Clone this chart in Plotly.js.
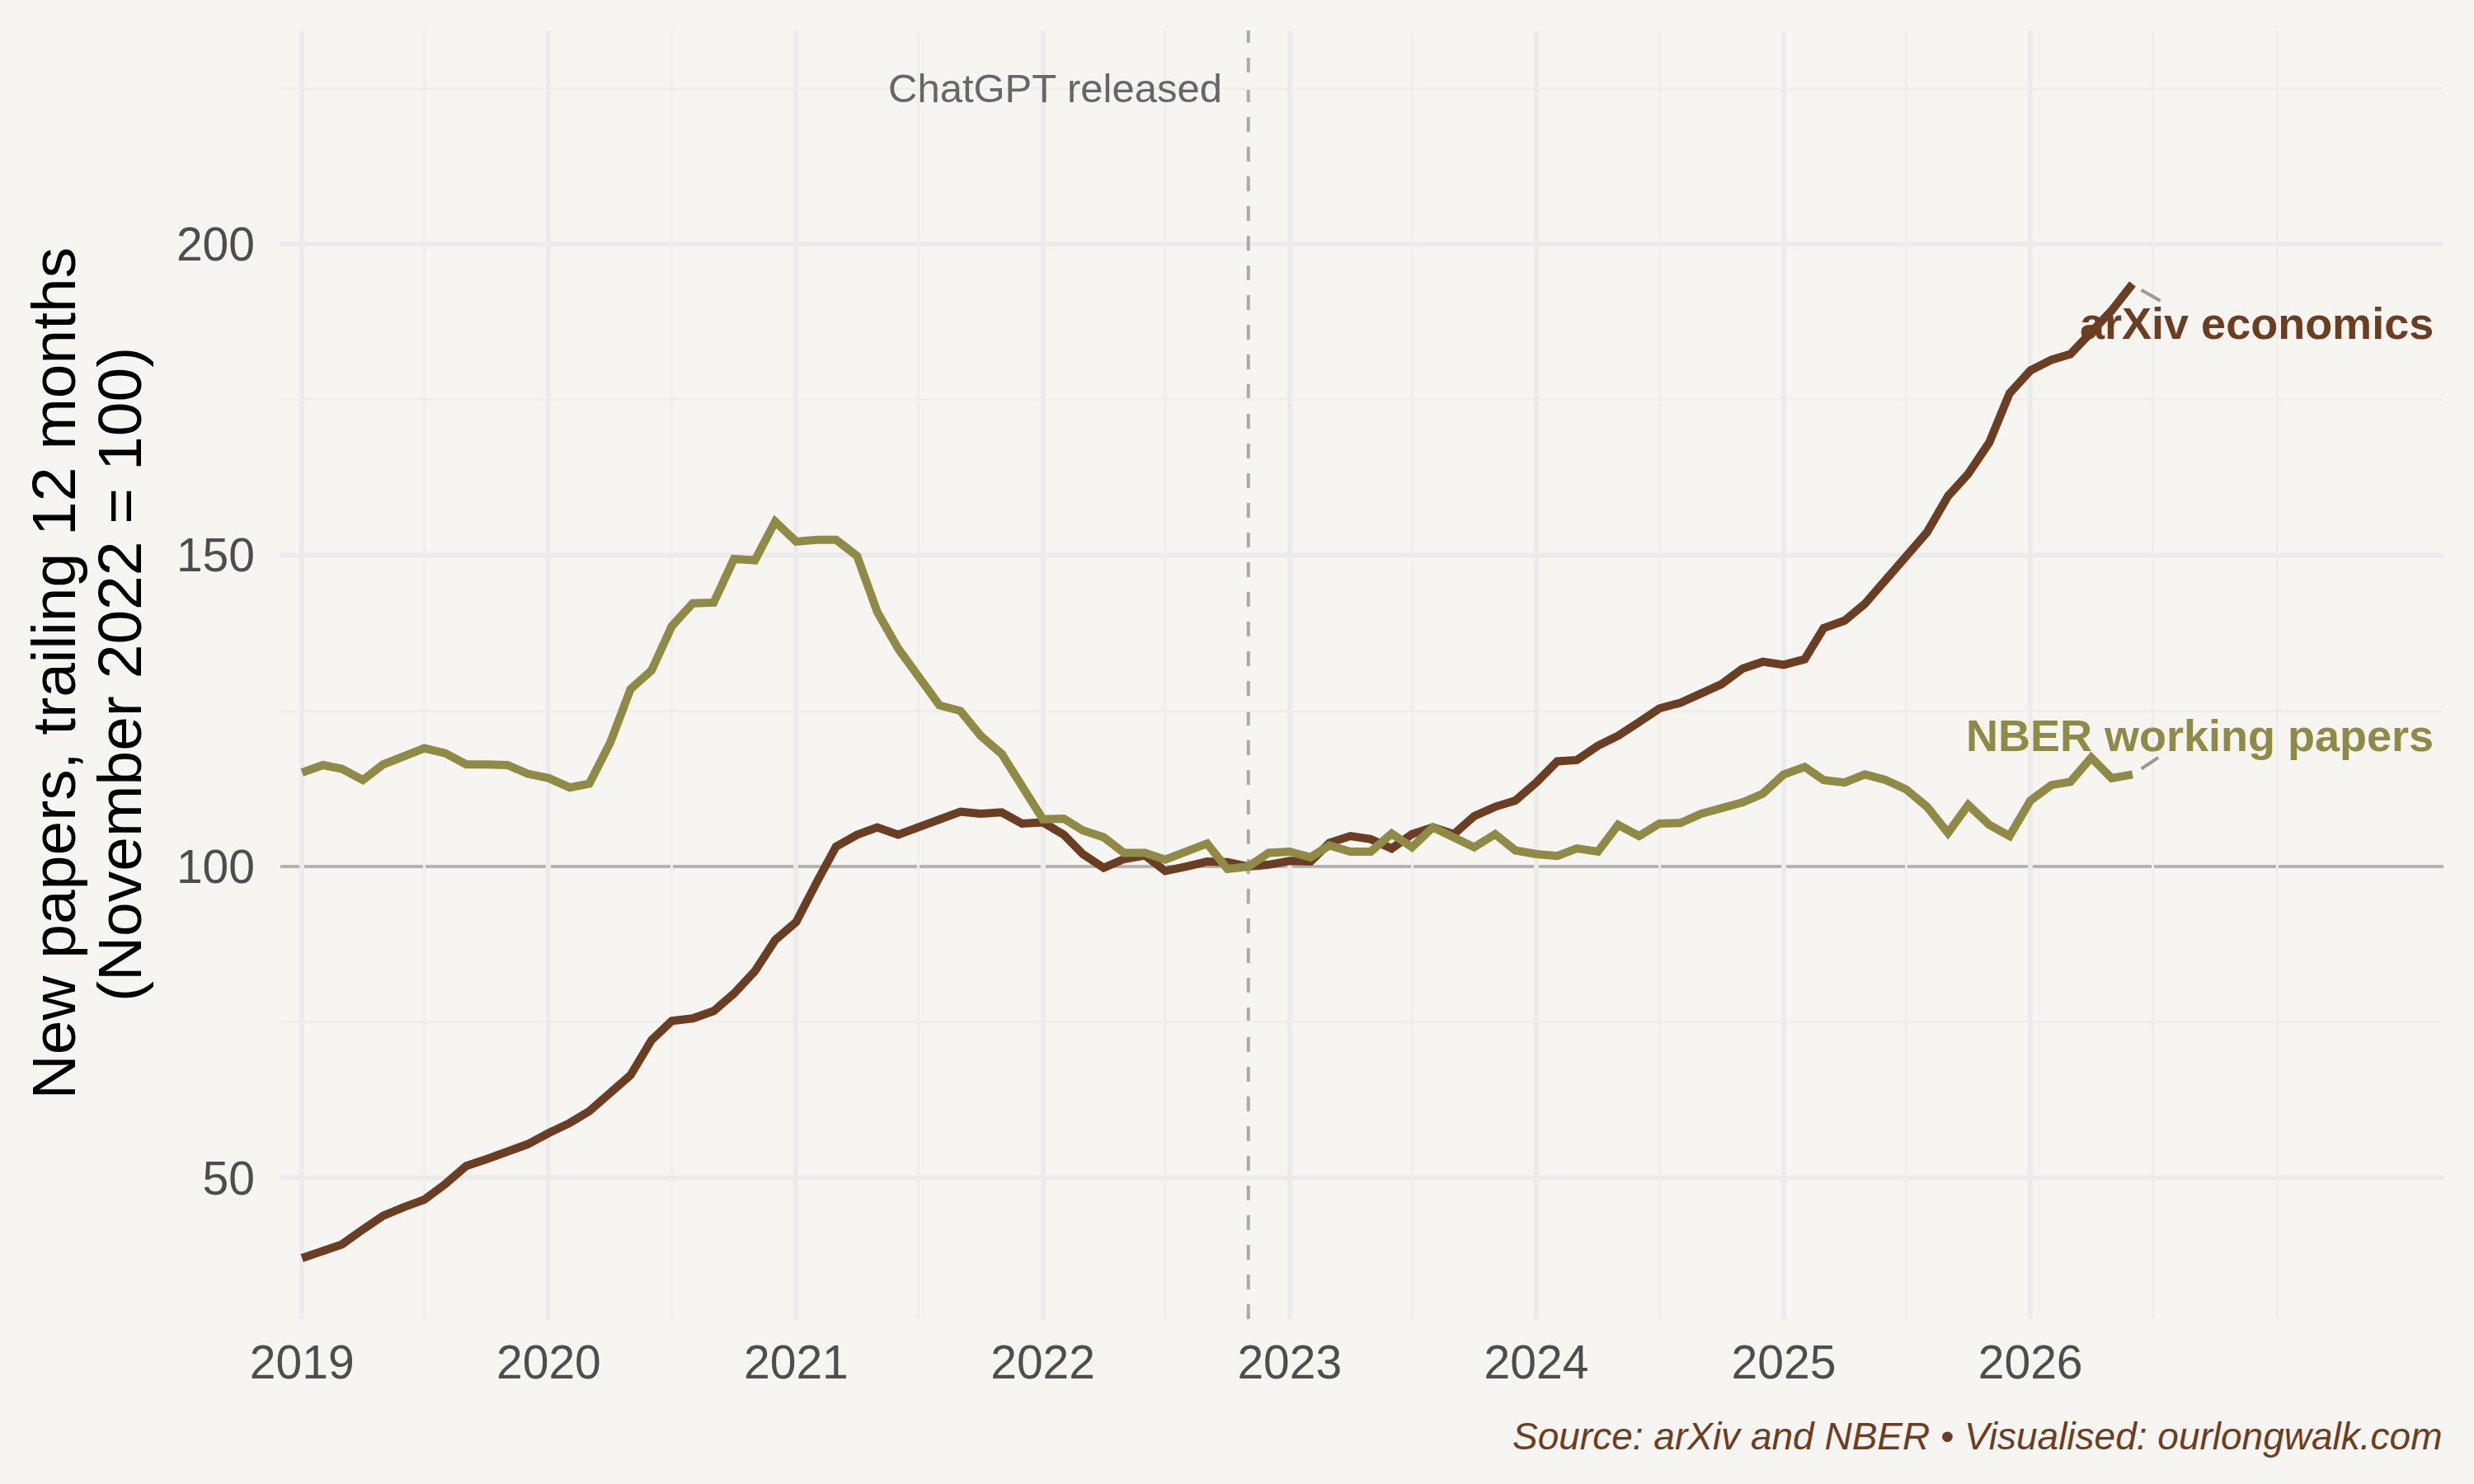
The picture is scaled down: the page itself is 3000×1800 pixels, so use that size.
<!DOCTYPE html>
<html>
<head>
<meta charset="utf-8">
<script src="https://cdn.plot.ly/plotly-3.0.1.min.js"></script>
<style>
  html, body { margin: 0; padding: 0; background: #f6f5f1; }
  #chart { width: 3000px; height: 1800px; }
</style>
</head>
<body>
<div id="chart"></div>
<script>
// Monthly index values, Jan 2019 .. Jun 2026 (November 2022 = 100)
const startYear = 2019;
const arxivEcon = [
  37.1, 38.2, 39.3, 41.7, 43.9, 45.3, 46.5, 49.0, 51.9, 53.0, 54.3, 55.4,
  57.2, 58.8, 60.7, 63.7, 66.5, 72.1, 75.2, 75.6, 76.8, 79.6, 83.2, 88.2,
  91.1, 97.6, 103.2, 105.1, 106.3, 105.1, 106.4, 107.5, 108.8, 108.5, 108.7, 106.9,
  107.1, 105.1, 102.0, 99.8, 101.2, 101.8, 99.3, 100.0, 100.8, 100.7, 100.0, 100.3,
  100.9, 100.8, 103.8, 104.9, 104.4, 102.9, 105.2, 106.3, 105.2, 108.1, 109.6, 110.6,
  113.5, 116.9, 117.1, 119.4, 121.0, 123.2, 125.4, 126.3, 127.9, 129.3, 131.8, 132.9,
  132.4, 133.3, 138.3, 139.5, 142.2, 146.2, 150.1, 153.7, 159.5, 163.1, 168.1, 176.0,
  179.7, 181.4, 182.3, 185.7, 189.3, 193.6
];
const nberWorking = [
  115.1, 116.3, 115.7, 113.9, 116.4, 117.7, 119.0, 118.2, 116.4, 116.4, 116.3, 114.9,
  114.2, 112.7, 113.3, 119.9, 128.5, 131.5, 138.6, 142.3, 142.4, 149.4, 149.2, 155.4,
  152.2, 152.5, 152.5, 149.9, 140.9, 135.0, 130.4, 125.9, 125.0, 121.0, 118.1, 112.8,
  107.6, 107.7, 105.8, 104.7, 102.2, 102.2, 101.1, 102.4, 103.7, 99.6, 100.0, 102.2,
  102.4, 101.5, 103.4, 102.4, 102.4, 105.3, 103.1, 106.3, 104.5, 103.1, 105.2, 102.6,
  102.0, 101.7, 102.9, 102.4, 106.7, 104.9, 106.9, 107.0, 108.5, 109.3, 110.3, 111.7,
  114.8, 116.0, 113.9, 113.5, 114.8, 113.9, 112.4, 109.6, 105.4, 109.9, 106.7, 104.9,
  110.6, 113.1, 113.6, 117.5, 114.2, 114.8
];
const yearTicks = [2019, 2020, 2021, 2022, 2023, 2024, 2025, 2026];
const yTicks = [50, 100, 150, 200];
const yMinor = [75, 125, 175, 225];
const refLevel = 100;

const arxivColor = "#6b3d22";
const nberColor = "#8f8a45";
const bg = "#f6f5f1";
const font = "Liberation Sans, Arial, sans-serif";

// month-start dates matching the series
const months = arxivEcon.map((_, i) => {
  const y = startYear + Math.floor(i / 12);
  const m = (i % 12) + 1;
  return y + "-" + String(m).padStart(2, "0") + "-01";
});

const xMajor = yearTicks.map((y) => y + "-01-01");
const xMinor = yearTicks.map((y) => y + "-07-01").concat(["2027-01-01"]);

const traces = [
  {
    x: months, y: arxivEcon, type: "scatter", mode: "lines",
    line: { color: arxivColor, width: 10 }, hoverinfo: "skip",
  },
  {
    x: months, y: nberWorking, type: "scatter", mode: "lines",
    line: { color: nberColor, width: 10 }, hoverinfo: "skip",
  },
];

// major horizontal grid drawn as shapes so the reference line at 100 sits on top
const hGrid = yTicks.filter((v) => v !== refLevel).map((v) => ({
  type: "line", xref: "paper", x0: 0, x1: 1, yref: "y", y0: v, y1: v,
  line: { color: "#ebebeb", width: 6 }, layer: "below",
}));

const layout = {
  width: 3000,
  height: 1800,
  paper_bgcolor: bg,
  plot_bgcolor: bg,
  margin: { l: 340, r: 37, t: 37, b: 200 },
  showlegend: false,
  font: { family: font, color: "#4d4d4d" },
  xaxis: {
    type: "date",
    range: ["2018-11-30", "2027-09-04"],
    tickmode: "array",
    tickvals: xMajor,
    ticktext: yearTicks.map(String),
    tickfont: { size: 57, color: "#4d4d4d", family: font },
    ticks: "",
    ticklabelstandoff: 14,
    showgrid: true,
    gridcolor: "#ebebeb",
    gridwidth: 6,
    minor: { tickmode: "array", tickvals: xMinor, showgrid: true, gridcolor: "#eeeeec", gridwidth: 3.2, ticks: "" },
    zeroline: false,
    showline: false,
  },
  yaxis: {
    range: [27.3, 234.3],
    tickmode: "array",
    tickvals: yTicks,
    tickfont: { size: 57, color: "#4d4d4d", family: font },
    ticks: "",
    ticklabelstandoff: 30,
    showgrid: false,
    minor: { tickmode: "array", tickvals: yMinor, showgrid: true, gridcolor: "#eeeeec", gridwidth: 3.2, ticks: "" },
    zeroline: false,
    showline: false,
  },
  shapes: hGrid.concat([
    {
      type: "line", xref: "paper", x0: 0, x1: 1, yref: "y", y0: refLevel, y1: refLevel,
      line: { color: "#b3b3b3", width: 4 }, layer: "below",
    },
    {
      type: "line", xref: "x", x0: "2022-11-01", x1: "2022-11-01", yref: "paper", y0: 0, y1: 1,
      line: { color: "#aaaaaa", width: 4, dash: "18px,18px" }, layer: "below",
    },
    {
      type: "line", xref: "x", yref: "y",
      x0: "2026-06-14", y0: 192.6, x1: "2026-07-12", y1: 190.9,
      line: { color: "#999999", width: 4 }, layer: "above",
    },
    {
      type: "line", xref: "x", yref: "y",
      x0: "2026-06-14", y0: 115.7, x1: "2026-07-09", y1: 117.5,
      line: { color: "#999999", width: 4 }, layer: "above",
    },
  ]),
  annotations: [
    {
      text: "ChatGPT released", xref: "x", yref: "y",
      x: "2022-09-26", y: 225, xanchor: "right", yanchor: "middle",
      showarrow: false, font: { size: 49, color: "#666666", family: font },
    },
    {
      text: "<b>arXiv economics</b>", xref: "x", yref: "y",
      x: "2027-08-23", y: 187.35, xanchor: "right", yanchor: "middle",
      showarrow: false, font: { size: 54, color: arxivColor, family: font },
    },
    {
      text: "<b>NBER working papers</b>", xref: "x", yref: "y",
      x: "2027-08-23", y: 121.06, xanchor: "right", yanchor: "middle",
      showarrow: false, font: { size: 54, color: nberColor, family: font },
    },
    {
      text: "<i>Source: arXiv and NBER \u2022 Visualised: ourlongwalk.com</i>",
      xref: "paper", yref: "paper", x: 1, y: -0.0908,
      xanchor: "right", yanchor: "middle", showarrow: false,
      font: { size: 46, color: arxivColor, family: font },
    },
    {
      text: "New papers, trailing 12 months", xref: "paper", yref: "paper",
      x: -0.105, y: 0.501, xanchor: "center", yanchor: "middle", textangle: -90,
      showarrow: false, font: { size: 75, color: "#000000", family: font },
    },
    {
      text: "(November 2022 = 100)", xref: "paper", yref: "paper",
      x: -0.0745, y: 0.5, xanchor: "center", yanchor: "middle", textangle: -90,
      showarrow: false, font: { size: 75, color: "#000000", family: font },
    },
  ],
};

Plotly.newPlot("chart", traces, layout, { staticPlot: true });
</script>
</body>
</html>
